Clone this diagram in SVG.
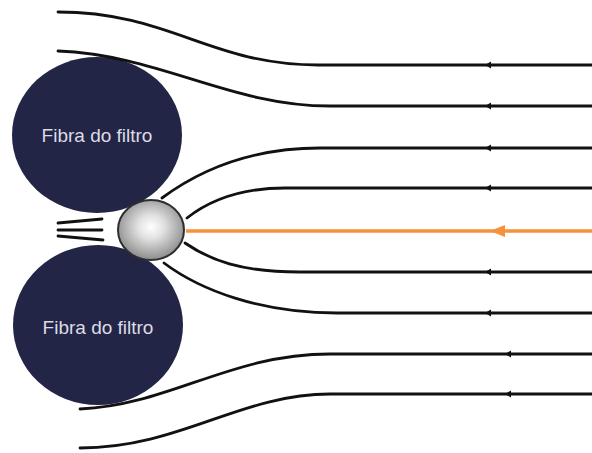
<svg xmlns="http://www.w3.org/2000/svg" width="592" height="453" viewBox="0 0 592 453">
  <defs>
    <radialGradient id="sphere" cx="0.5" cy="0.45" r="0.55">
      <stop offset="0" stop-color="#ffffff"/>
      <stop offset="0.35" stop-color="#e2e2e2"/>
      <stop offset="1" stop-color="#8c8c8c"/>
    </radialGradient>
  </defs>
  <style>
    .fiber { fill: #232546; }
    .label { font-family: "Liberation Sans", Arial, sans-serif; font-size: 19px; fill: #dcdce4; text-anchor: middle; }
    .flow { fill: none; stroke: #111; stroke-width: 2.8; stroke-linecap: round; }
    .head { fill: #111; }
    .ray { fill: none; stroke: #f7913b; stroke-width: 3.5; }
    .rayhead { fill: #f7913b; }
  </style>

  <g id="fiber-top">
    <ellipse class="fiber" cx="97" cy="135" rx="85" ry="78"/>
    <text class="label" x="97" y="142">Fibra do filtro</text>
  </g>
  <g id="fiber-bottom">
    <ellipse class="fiber" cx="98" cy="325" rx="85" ry="80"/>
    <text class="label" x="98" y="334">Fibra do filtro</text>
  </g>

  <g id="connectors">
    <path class="flow" d="M58,12 C170,12 210,65 318,65 L592,65"/>
    <path class="flow" d="M58,51 C160,55 230,106 330,106 L592,106"/>
    <path class="flow" d="M162,198 C200,170 250,148 320,148 L592,148"/>
    <path class="flow" d="M187,218 C210,200 240,188 285,188 L592,188"/>
    <path class="flow" d="M185,243 C210,260 240,272 300,272 L592,272"/>
    <path class="flow" d="M164,263 C200,290 260,313 337,313 L592,313"/>
    <path class="flow" d="M80,409 C170,405 230,354 330,354 L592,354"/>
    <path class="flow" d="M80,448 C180,448 240,394 330,394 L592,394"/>
    <path class="flow" d="M58,223 L102,219"/>
    <path class="flow" d="M58,230 L102,230"/>
    <path class="flow" d="M58,236 L103,240"/>
    <path class="ray" d="M186,231 L592,231"/>

    <polygon class="head" points="485,65 491,61.5 491,68.5"/>
    <polygon class="head" points="485,106 491,102.5 491,109.5"/>
    <polygon class="head" points="485,148 491,144.5 491,151.5"/>
    <polygon class="head" points="485,188 491,184.5 491,191.5"/>
    <polygon class="head" points="485,272 491,268.5 491,275.5"/>
    <polygon class="head" points="485,313 491,309.5 491,316.5"/>
    <polygon class="head" points="505,354 511,350.5 511,357.5"/>
    <polygon class="head" points="505,394 511,390.5 511,397.5"/>
    <polygon class="rayhead" points="490,231 505,225 505,237"/>
  </g>

  <g id="particle">
    <ellipse cx="151" cy="230" rx="33" ry="30" fill="url(#sphere)" stroke="#2e2e2e" stroke-width="2"/>
  </g>
</svg>
